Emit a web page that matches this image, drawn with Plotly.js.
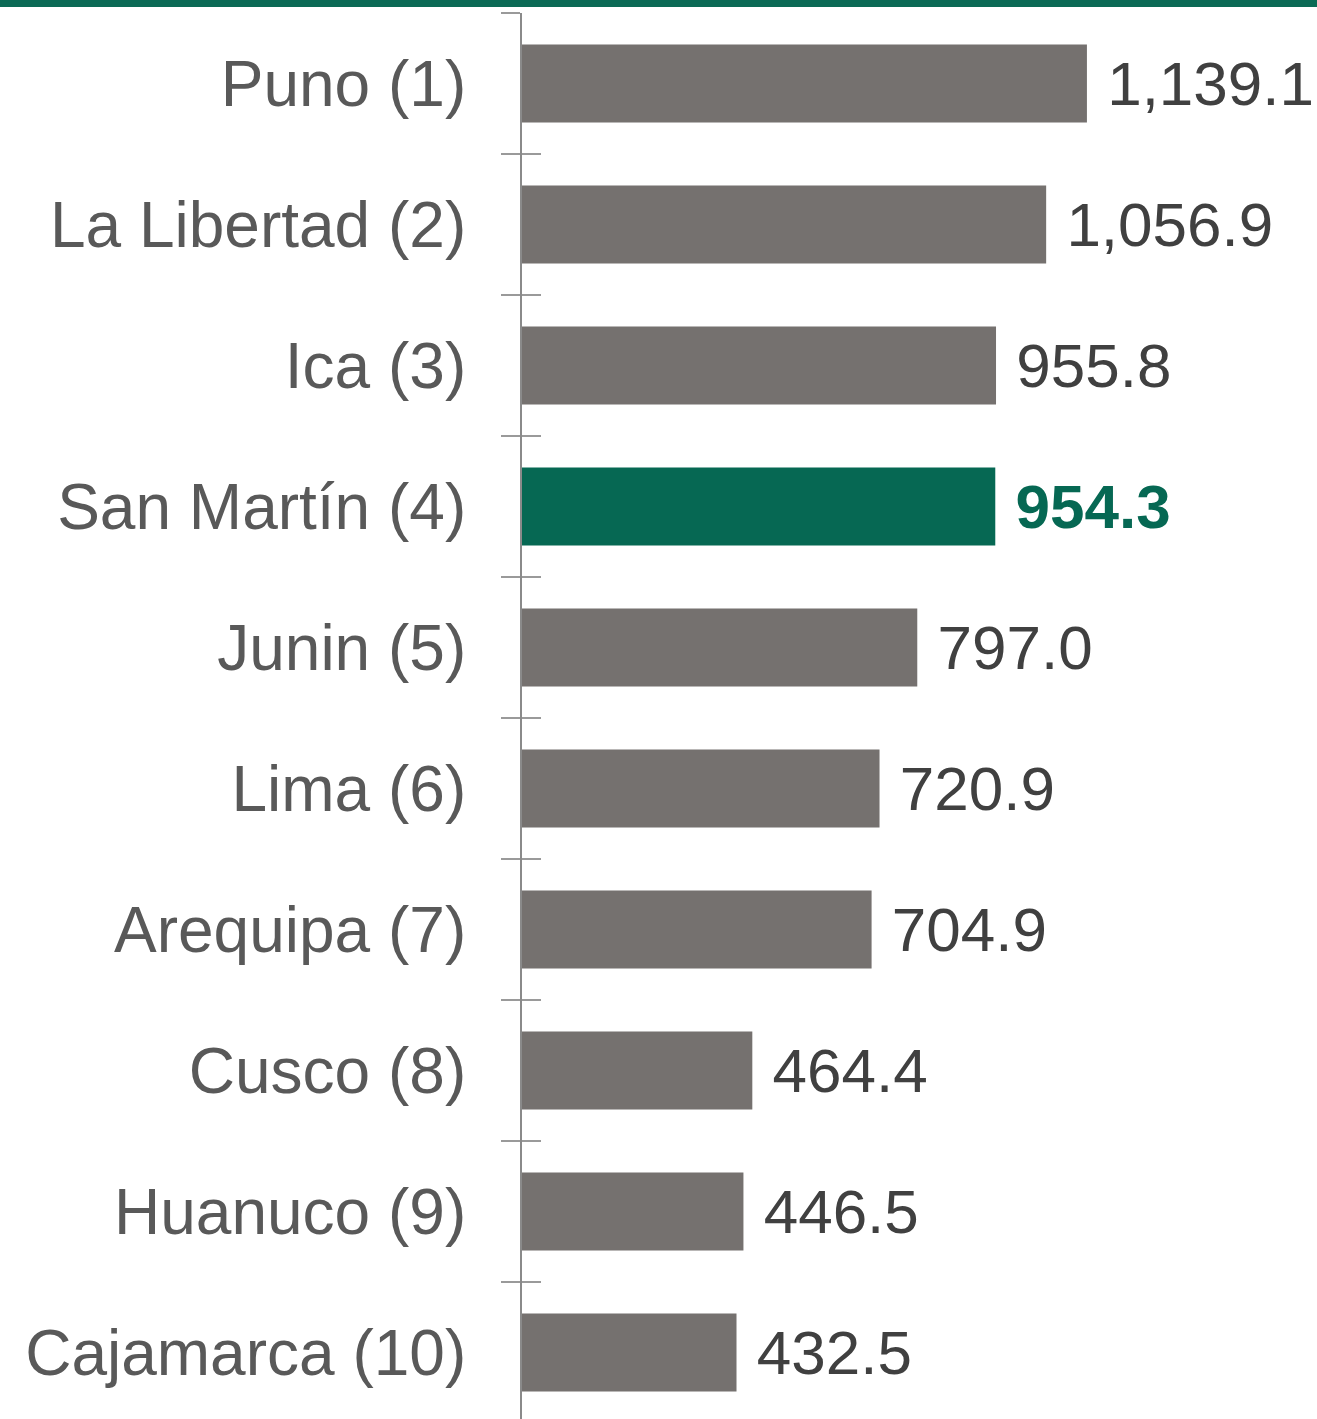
<!DOCTYPE html>
<html>
<head>
<meta charset="utf-8">
<script src="https://cdn.plot.ly/plotly-3.0.1.min.js"></script>
<style>html,body{margin:0;padding:0;background:#fff;}#chart{width:1317px;height:1419px;}</style>
</head>
<body>
<div id="chart"></div>
<script>
const regions = ["Puno (1)", "La Libertad (2)", "Ica (3)", "San Martín (4)", "Junin (5)", "Lima (6)", "Arequipa (7)", "Cusco (8)", "Huanuco (9)", "Cajamarca (10)"];
const values = [1139.1, 1056.9, 955.8, 954.3, 797.0, 720.9, 704.9, 464.4, 446.5, 432.5];
const highlight = "San Martín (4)";

const GRAY = "#75716f", GREEN = "#066853";
const barColors = regions.map(r => r === highlight ? GREEN : GRAY);
const textColors = regions.map(r => r === highlight ? GREEN : "#404040");
const templates = regions.map(r => r === highlight ? " <b>%{x:,.1f}</b>" : " %{x:,.1f}");

const yRange = [9.472, -0.5];

const data = [
  {
    type: "bar", orientation: "h",
    y: regions, x: values,
    marker: {color: barColors},
    texttemplate: templates,
    textposition: "outside",
    cliponaxis: false,
    textfont: {family: "Liberation Sans, Arial, sans-serif", size: 62, color: textColors},
    hoverinfo: "skip"
  },
  {
    type: "scatter", mode: "markers",
    y: regions, x: values.map(() => 0),
    yaxis: "y2",
    marker: {opacity: 0},
    hoverinfo: "skip", showlegend: false
  }
];

const layout = {
  width: 1317, height: 1419,
  margin: {l: 522, r: 0, t: 13, b: 0},
  paper_bgcolor: "#fff", plot_bgcolor: "#fff",
  showlegend: false,
  bargap: 0.447,
  xaxis: {range: [0, 1603], visible: false, showgrid: false, zeroline: false},
  yaxis: {
    type: "category", categoryorder: "array", categoryarray: regions,
    range: yRange,
    showline: true, linecolor: "#8a8a8a", linewidth: 2,
    ticks: "outside", tickson: "boundaries", ticklen: 19, tickwidth: 2, tickcolor: "#9a9a9a",
    ticklabelstandoff: 41,
    tickfont: {family: "Liberation Sans, Arial, sans-serif", size: 64, color: "#595959"},
    showgrid: false, zeroline: false
  },
  yaxis2: {
    type: "category", categoryorder: "array", categoryarray: regions,
    overlaying: "y", side: "left",
    range: yRange,
    showline: false,
    ticks: "inside", tickson: "boundaries", ticklen: 19, tickwidth: 2, tickcolor: "#9a9a9a",
    showticklabels: false, showgrid: false, zeroline: false
  },
  shapes: [{
    type: "rect", xref: "paper", yref: "paper",
    xsizemode: "pixel", xanchor: 0, x0: -522, x1: 795,
    ysizemode: "pixel", yanchor: 1, y0: 6, y1: 13,
    fillcolor: "#0b6a55", line: {width: 0}
  }]
};

Plotly.newPlot("chart", data, layout, {staticPlot: true, displayModeBar: false});
</script>
</body>
</html>
